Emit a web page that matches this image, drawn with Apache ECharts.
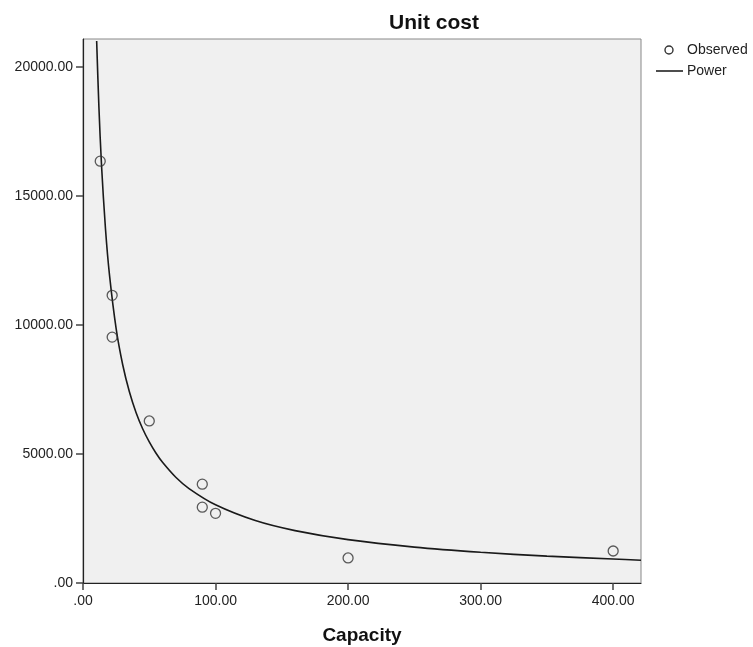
<!DOCTYPE html>
<html>
<head>
<meta charset="utf-8">
<script src="https://cdn.jsdelivr.net/npm/echarts@6/dist/echarts.min.js"></script>
<style>
  html, body { margin: 0; padding: 0; background: #fff; }
  #chart { width: 753px; height: 647px; }
</style>
</head>
<body>
<div id="chart"></div>
<script>
// observed points (capacity, unit cost)
var obsCapacity = [13, 22, 22, 50, 90, 90, 100, 200, 400];
var obsCost = [16350, 11150, 9530, 6280, 3830, 2940, 2700, 970, 1240];

// fitted power curve
var fitCapacity = [10.3, 12, 14, 17, 20, 25, 30, 35, 40, 45, 50, 55, 60, 70, 80, 100, 130, 160, 200, 250, 300, 350, 400, 421];
var fitCost = [21010, 18450, 16160, 13700, 11930, 9860, 8450, 7410, 6610, 5980, 5470, 5040, 4680, 4100, 3660, 3030, 2420, 2030, 1680, 1390, 1190, 1040, 930, 880];

var xTicks = [0, 100, 200, 300, 400];
var yTicks = [0, 5000, 10000, 15000, 20000];

var font = 'Arial, "Liberation Sans", sans-serif';

function fmt(v) {
  var s = v.toFixed(2);
  return s.indexOf('0.') === 0 ? s.slice(1) : s;
}

function pairs(xs, ys) {
  return xs.map(function (x, i) { return [x, ys[i]]; });
}

var chart = echarts.init(document.getElementById('chart'));

chart.setOption({
  backgroundColor: '#fff',
  animation: false,
  title: {
    text: 'Unit cost',
    left: 429,
    top: 8,
    textAlign: 'center',
    textStyle: { fontFamily: font, fontSize: 21, fontWeight: 'bold', color: '#111' }
  },
  // legend drawn by hand, like the SPSS one
  graphic: [
    { type: 'circle', shape: { cx: 669, cy: 50, r: 4 }, style: { fill: 'none', stroke: '#333', lineWidth: 1.4 } },
    { type: 'text', x: 687, y: 50, style: { text: 'Observed', font: '14px ' + font, fill: '#222', verticalAlign: 'middle' } },
    { type: 'line', shape: { x1: 656, y1: 71, x2: 683, y2: 71 }, style: { stroke: '#222', lineWidth: 1.6 } },
    { type: 'text', x: 687, y: 71, style: { text: 'Power', font: '14px ' + font, fill: '#222', verticalAlign: 'middle' } }
  ],
  grid: {
    left: 83,
    right: 112,
    top: 39,
    bottom: 64,
    containLabel: false,
    outerBoundsMode: 'none',
    show: true,
    backgroundColor: '#f0f0f0',
    borderColor: '#888',
    borderWidth: 1
  },
  xAxis: {
    type: 'value',
    min: 0,
    max: 421,
    interval: 100,
    name: 'Capacity',
    nameLocation: 'middle',
    nameGap: 43,
    nameTextStyle: { fontFamily: font, fontSize: 19, fontWeight: 'bold', color: '#111' },
    axisLine: { show: true, onZero: false, lineStyle: { color: '#222', width: 1.2 } },
    axisTick: { show: true, length: 7, lineStyle: { color: '#444', width: 1.5 } },
    axisLabel: {
      fontFamily: font, fontSize: 14, color: '#222', margin: 11,
      showMaxLabel: false,
      formatter: function (v) { return xTicks.indexOf(v) >= 0 ? fmt(v) : ''; }
    },
    splitLine: { show: false }
  },
  yAxis: {
    type: 'value',
    min: 0,
    max: 21085,
    interval: 5000,
    axisLine: { show: true, onZero: false, lineStyle: { color: '#222', width: 1.2 } },
    axisTick: { show: true, length: 7, lineStyle: { color: '#444', width: 1.5 } },
    axisLabel: {
      fontFamily: font, fontSize: 14, color: '#222', margin: 10,
      showMaxLabel: false,
      formatter: function (v) { return yTicks.indexOf(v) >= 0 ? fmt(v) : ''; }
    },
    splitLine: { show: false }
  },
  series: [
    {
      name: 'Power',
      type: 'line',
      data: pairs(fitCapacity, fitCost),
      smooth: 0.3,
      symbol: 'none',
      clip: true,
      lineStyle: { color: '#1a1a1a', width: 1.6 },
      z: 2
    },
    {
      name: 'Observed',
      type: 'scatter',
      data: pairs(obsCapacity, obsCost),
      symbol: 'circle',
      symbolSize: 10,
      itemStyle: { color: 'transparent', borderColor: '#333', borderWidth: 1.3 },
      z: 3
    }
  ]
});
</script>
</body>
</html>
